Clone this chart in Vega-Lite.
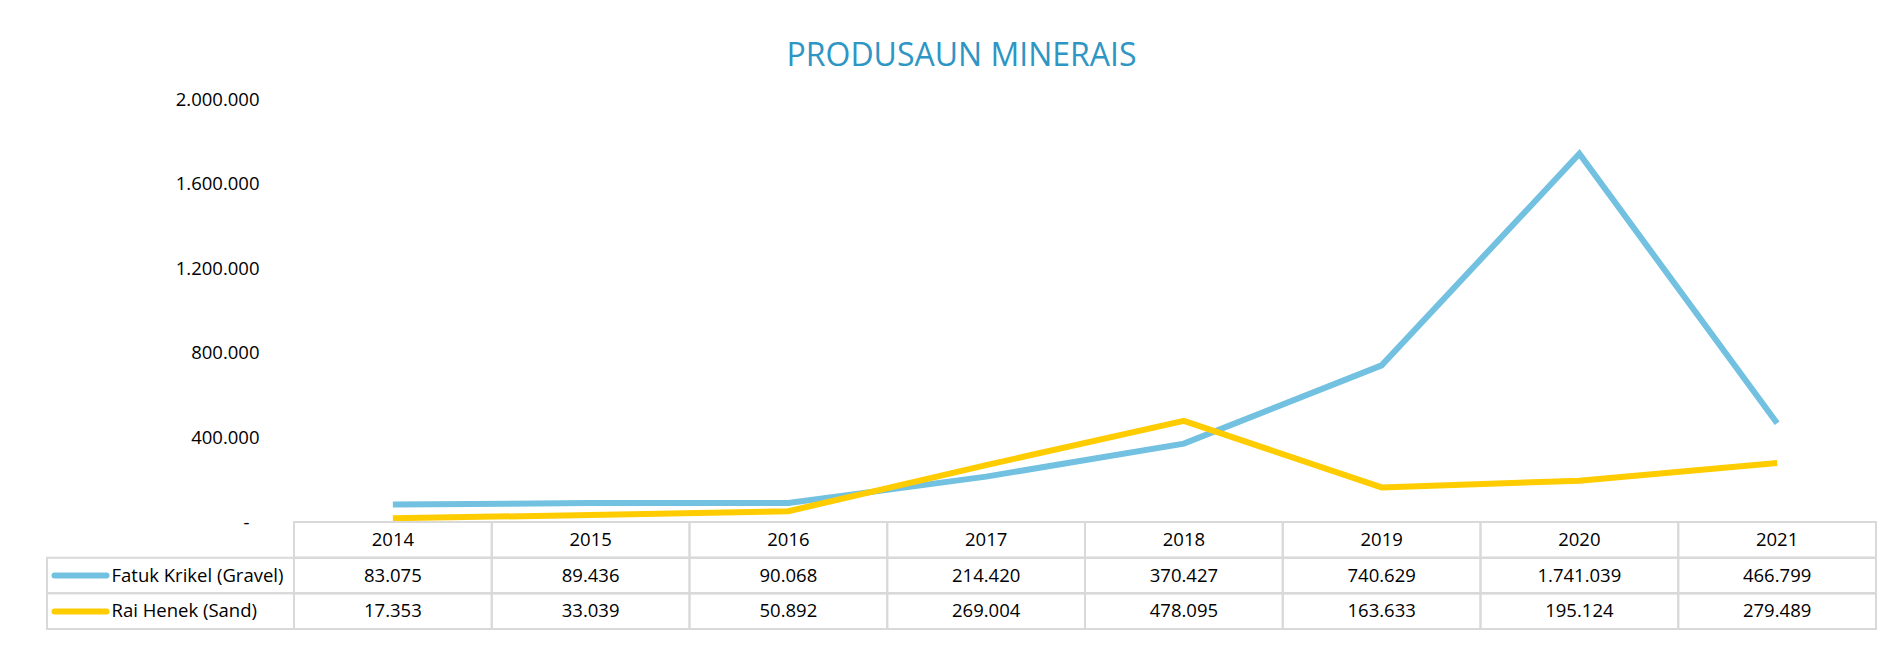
{
  "$schema": "https://vega.github.io/schema/vega-lite/v6.json",
  "padding": {"left": 46, "right": 7, "top": 40, "bottom": 10},
  "title": {"text": "PRODUSAUN MINERAIS", "fontSize": 32, "font": "Open Sans", "fontWeight": "normal", "color": "#2E96C4", "anchor": "middle", "offset": 17},
  "datasets": {
    "prod": [
      {"year": "2014", "row": "Fatuk Krikel (Gravel)", "value": 83075},
      {"year": "2015", "row": "Fatuk Krikel (Gravel)", "value": 89436},
      {"year": "2016", "row": "Fatuk Krikel (Gravel)", "value": 90068},
      {"year": "2017", "row": "Fatuk Krikel (Gravel)", "value": 214420},
      {"year": "2018", "row": "Fatuk Krikel (Gravel)", "value": 370427},
      {"year": "2019", "row": "Fatuk Krikel (Gravel)", "value": 740629},
      {"year": "2020", "row": "Fatuk Krikel (Gravel)", "value": 1741039},
      {"year": "2021", "row": "Fatuk Krikel (Gravel)", "value": 466799},
      {"year": "2014", "row": "Rai Henek (Sand)", "value": 17353},
      {"year": "2015", "row": "Rai Henek (Sand)", "value": 33039},
      {"year": "2016", "row": "Rai Henek (Sand)", "value": 50892},
      {"year": "2017", "row": "Rai Henek (Sand)", "value": 269004},
      {"year": "2018", "row": "Rai Henek (Sand)", "value": 478095},
      {"year": "2019", "row": "Rai Henek (Sand)", "value": 163633},
      {"year": "2020", "row": "Rai Henek (Sand)", "value": 195124},
      {"year": "2021", "row": "Rai Henek (Sand)", "value": 279489}
    ],
    "header": [
      {"year": "2014", "row": "Year"},
      {"year": "2015", "row": "Year"},
      {"year": "2016", "row": "Year"},
      {"year": "2017", "row": "Year"},
      {"year": "2018", "row": "Year"},
      {"year": "2019", "row": "Year"},
      {"year": "2020", "row": "Year"},
      {"year": "2021", "row": "Year"}
    ],
    "rows": [
      {"row": "Fatuk Krikel (Gravel)"},
      {"row": "Rai Henek (Sand)"}
    ]
  },
  "spacing": 0,
  "bounds": "flush",
  "resolve": {"scale": {"x": "independent", "y": "independent"}},
  "vconcat": [
    {
      "width": 1829,
      "height": 423,
      "data": {"name": "prod"},
      "mark": {"type": "line", "strokeWidth": 6},
      "encoding": {
        "x": {"field": "year", "type": "ordinal", "scale": {"type": "band", "paddingInner": 0, "paddingOuter": 0.62453, "align": 1}, "axis": null},
        "y": {
          "field": "value", "type": "quantitative",
          "scale": {"domain": [0, 2000000], "nice": false},
          "axis": {
            "title": null, "values": [0, 400000, 800000, 1200000, 1600000, 2000000],
            "format": ",.0f", "grid": false, "domain": false, "ticks": false,
            "offset": -247,
            "labelPadding": {"condition": {"test": "datum.value === 0", "value": 45}, "value": 35},
            "labelFontSize": 18.5, "labelColor": "#000000",
            "labelFont": "Open Sans",
            "labelExpr": "datum.value == 0 ? '-' : datum.label"
          }
        },
        "color": {"field": "row", "type": "nominal", "scale": {"domain": ["Fatuk Krikel (Gravel)", "Rai Henek (Sand)"], "range": ["#72C1E0", "#FFCC00"]}, "legend": null}
      }
    },
    {
      "width": 1829,
      "height": 107,
      "encoding": {
        "y": {
          "field": "row", "type": "nominal",
          "scale": {"type": "band", "domain": ["Year", "Fatuk Krikel (Gravel)", "Rai Henek (Sand)"], "paddingInner": 0, "paddingOuter": 0},
          "axis": {
            "title": null, "domain": false, "grid": false, "ticks": true,
            "offset": -59, "tickSize": 52, "tickWidth": 6, "tickCap": "round",
            "tickColor": {"condition": {"test": "datum.value === 'Fatuk Krikel (Gravel)'", "value": "#72C1E0"}, "value": "#FFCC00"},
            "tickOpacity": {"condition": {"test": "datum.value === 'Year'", "value": 0}, "value": 1},
            "labelAlign": "left", "labelPadding": -57, "labelFontSize": 18.5, "labelColor": "#000000",
            "labelFont": "Open Sans",
            "labelExpr": "datum.value === 'Year' ? '' : datum.label"
          }
        }
      },
      "layer": [
        {
          "data": {"name": "rows"},
          "mark": {"type": "rect", "fill": null, "stroke": "#D9D9D9", "strokeWidth": 2}
        },
        {
          "data": {"name": "header"},
          "mark": {"type": "rect", "fill": null, "stroke": "#D9D9D9", "strokeWidth": 2},
          "encoding": {
            "x": {"field": "year", "type": "ordinal", "scale": {"type": "band", "paddingInner": 0, "paddingOuter": 0.62453, "align": 1}, "axis": null}
          }
        },
        {
          "data": {"name": "prod"},
          "mark": {"type": "rect", "fill": null, "stroke": "#D9D9D9", "strokeWidth": 2},
          "encoding": {
            "x": {"field": "year", "type": "ordinal", "scale": {"type": "band", "paddingInner": 0, "paddingOuter": 0.62453, "align": 1}, "axis": null}
          }
        },
        {
          "data": {"name": "header"},
          "mark": {"type": "text", "fontSize": 18.5, "font": "Open Sans", "color": "#000000"},
          "encoding": {
            "x": {"field": "year", "type": "ordinal", "scale": {"type": "band", "paddingInner": 0, "paddingOuter": 0.62453, "align": 1}, "axis": null},
            "text": {"field": "year", "type": "nominal"}
          }
        },
        {
          "data": {"name": "prod"},
          "mark": {"type": "text", "fontSize": 18.5, "font": "Open Sans", "color": "#000000"},
          "encoding": {
            "x": {"field": "year", "type": "ordinal", "scale": {"type": "band", "paddingInner": 0, "paddingOuter": 0.62453, "align": 1}, "axis": null},
            "text": {"field": "value", "type": "quantitative", "format": ",.0f"}
          }
        }
      ]
    }
  ],
  "config": {
    "view": {"stroke": null},
    "font": "Open Sans",
    "locale": {"number": {"decimal": ",", "thousands": ".", "grouping": [3], "currency": ["", ""]}}
  }
}
